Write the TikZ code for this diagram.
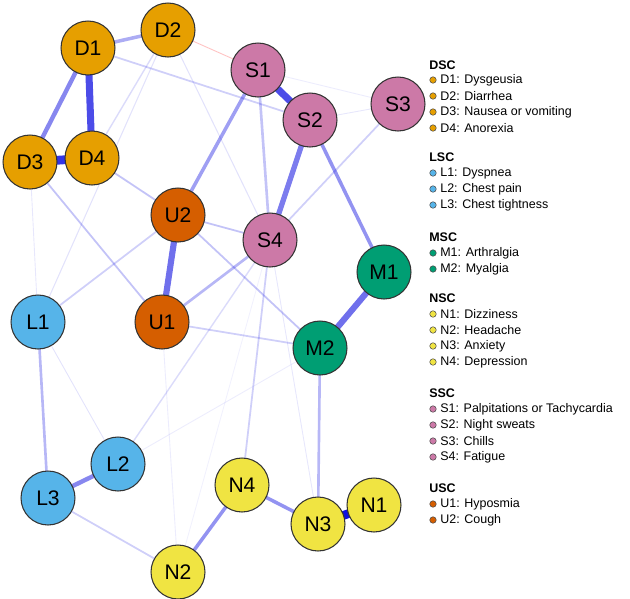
\documentclass[tikz,border=0pt]{standalone}
\usepackage{fontspec}
\setmainfont{Liberation Sans}
\usetikzlibrary{backgrounds}
\definecolor{dsc}{HTML}{E69F00}
\definecolor{lsc}{HTML}{56B4E9}
\definecolor{msc}{HTML}{009E73}
\definecolor{nsc}{HTML}{F0E442}
\definecolor{ssc}{HTML}{CC79A7}
\definecolor{usc}{HTML}{D55E00}
\definecolor{eblue}{HTML}{1010E0}
\tikzset{snode/.style={
  draw=black!80,
  circle,
  line width=.6pt,
  inner sep=0pt,
  minimum size=1.08cm,
  font=\fontsize{12}{12}\selectfont}}
\tikzset{sedge/.style={
  eblue,
  line cap=round}}
\tikzset{ldot/.style={
  draw=black!70,
  circle,
  line width=.3pt,
  inner sep=0pt,
  minimum size=.13cm}}
\begin{document}
\begin{tikzpicture}[x=0.02cm,y=-0.02cm,
  ltext/.style={anchor=west,font=\fontsize{7.1}{8}\selectfont,inner sep=0pt}
]
  \useasboundingbox (0,0) rectangle (630,599);

  %% Nodes
  \foreach \n/\x/\y/\c in {D1/88/48/dsc,D2/168/30/dsc,D3/30/162/dsc,D4/92/158/dsc,
    S1/258/70/ssc,S2/310/120/ssc,S3/398/104/ssc,S4/270/240/ssc,
    U2/178/215/usc,U1/162/322/usc,M1/384/272/msc,M2/320/348/msc,
    L1/38/322/lsc,L2/118/464/lsc,L3/48/498/lsc,
    N4/242/485/nsc,N3/318/524/nsc,N1/374/505/nsc,N2/178/572/nsc}{
    \node[snode,fill=\c] (\n) at (\x,\y) {\n};
  }

  %% Edges
  \begin{pgfonlayer}{background}
    \foreach \a/\b/\w/\o in {N3/N1/5/1,D3/D4/5/.85,D1/D4/4/.75,S1/S2/4/.75,
      U2/U1/3.5/.6,M1/M2/3.5/.6,S2/S4/3/.55,D1/D3/2.5/.5,L2/L3/2.5/.5,
      N4/N2/2/.45,N4/N3/2/.45,S2/M1/2/.45,S1/U2/2/.4,D1/D2/2/.35,
      S1/S4/1.5/.25,L1/L3/1.5/.3,M2/N3/1.5/.3,U1/S4/1.5/.3,
      U2/S4/1/.25,D4/U2/1/.25,D3/U1/1/.25,U2/M2/1/.25,U1/M2/1/.2,
      L1/U2/1/.2,D1/S2/1/.2,S3/S4/1/.2,L3/N2/1/.2,S4/N4/1/.2,
      S4/L2/.8/.15,D2/D4/.8/.15,D2/L1/.6/.12,D2/S4/.6/.12,D3/L1/.5/.1,
      L1/L2/.5/.12,S2/S3/.5/.1,S1/S3/.5/.08,S4/N3/.5/.1,M2/L2/.5/.08,
      U1/N2/.5/.08,S4/N2/.5/.06}{
      \draw[sedge,line width=\w,draw opacity=\o] (\a) -- (\b);
    }
    \draw[red!60,line width=.5,draw opacity=.4] (D2) -- (S1);
  \end{pgfonlayer}

  %% Legend
  \foreach \h/\y in {DSC/65,LSC/157,MSC/237,NSC/298,SSC/393,USC/488}{
    \node[ltext,font=\fontsize{7.1}{8}\selectfont\bfseries] (h\h) at (429,\y) {\h};
  }
  \foreach \t/\y/\c [count=\i] in {D1: Dysgeusia/80/dsc,D2: Diarrhea/96/dsc,
    D3: Nausea or vomiting/112/dsc,D4: Anorexia/128/dsc,
    L1: Dyspnea/173/lsc,L2: Chest pain/189/lsc,L3: Chest tightness/205/lsc,
    M1: Arthralgia/253/msc,M2: Myalgia/269/msc,
    N1: Dizziness/314/nsc,N2: Headache/330/nsc,N3: Anxiety/346/nsc,N4: Depression/362/nsc,
    S1: Palpitations or Tachycardia/409/ssc,S2: Night sweats/425/ssc,
    S3: Chills/441/ssc,S4: Fatigue/457/ssc,
    U1: Hyposmia/504/usc,U2: Cough/520/usc}{
    \node[ldot,fill=\c] (d\i) at (433,\y) {};
    \node[ltext] (t\i) at (440,\y) {\t};
  }
\end{tikzpicture}
\end{document}
